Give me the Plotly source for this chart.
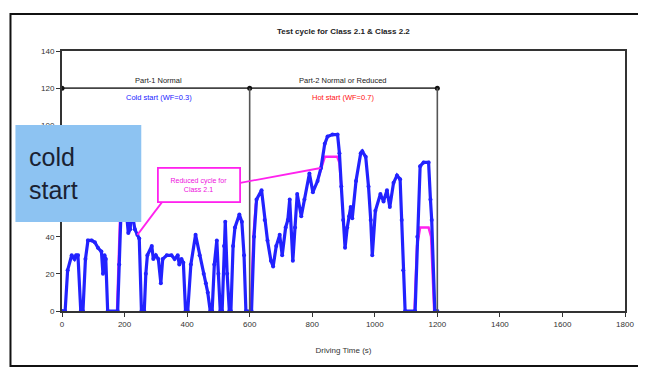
import plotly.graph_objects as go

# Normal cycle (Class 2.2) — time (s), speed (km/h)
normal_time = [0, 10, 18, 31, 40, 45, 51, 60, 67, 75, 83, 95, 105, 115, 126, 131, 136, 140, 146,
               178, 183, 188, 195, 205, 212, 218, 222, 228, 233, 241, 247, 254,
               263, 268, 273, 287, 292, 300, 308, 316, 322, 335, 350, 360, 370, 375, 382, 388, 395,
               402, 412, 427, 440, 453, 460, 466, 474, 480, 487, 495, 500, 506, 512, 518, 522, 528, 535,
               540, 547, 553, 567, 575, 582, 588,
               606, 614, 622, 638, 648, 657, 668, 675, 685, 696, 704, 715, 722, 728, 738, 745, 752, 765,
               775, 791, 802, 817, 828, 840, 849, 865, 881, 887, 893, 899, 905, 912, 918, 923, 928, 940,
               955, 960, 971, 980, 987, 992, 1002, 1018, 1028, 1039, 1048, 1060, 1071, 1081, 1086, 1091,
               1097, 1129, 1136, 1145, 1156, 1172, 1178, 1182, 1192, 1200]
normal_speed = [0, 0, 22, 30, 28, 30, 30, 0, 0, 28, 38, 38, 37, 34, 32, 20, 30, 28, 0,
                0, 25, 50, 58, 55, 42, 44, 55, 50, 44, 41, 39, 0,
                0, 20, 30, 35, 28, 30, 28, 15, 28, 30, 30, 28, 30, 25, 28, 26, 0,
                0, 25, 41, 30, 20, 15, 10, 0, 0, 25, 38, 20, 0, 0, 35, 48, 20, 0,
                0, 35, 45, 52, 48, 30, 0,
                0, 40, 60, 65, 49, 38, 27, 24, 35, 41, 30, 45, 49, 60, 27, 45, 63, 51,
                60, 74, 64, 70, 77, 90, 94, 95, 95, 85, 67, 49, 34, 45, 51, 56, 50, 70,
                85, 86, 83, 67, 49, 30, 54, 63, 59, 65, 56, 69, 73, 71, 49, 22,
                0, 0, 40, 78, 80, 80, 60, 49, 0, 0]

# Reduced cycle (Class 2.1) where it differs from / shows beside the normal cycle
reduced_time = [176, 182, 186, None,
                604, 612, 620, None,
                820, 828, 840, 880, 887, 893, None,
                1127, 1135, 1145, 1172, 1180, 1190]
reduced_speed = [0, 40, 52, None,
                 0, 40, 58, None,
                 72, 77, 83, 83, 80, 67, None,
                 0, 35, 45, 45, 40, 0]

x_ticks = [0, 200, 400, 600, 800, 1000, 1200, 1400, 1600, 1800]
y_ticks = [0, 20, 40, 60, 80, 100, 120, 140]
# 60 and 80 sit fully under the "cold start" box in the reference
y_ticktext = ["0", "20", "40", "", "", "100", "120", "140"]

bracket_x = [0, 600, 1200]
bracket_y = [120, 120, 120]

fig = go.Figure()

fig.add_trace(go.Scatter(x=reduced_time, y=reduced_speed, mode="lines",
                         line=dict(color="#FF22EE", width=2.5), connectgaps=False,
                         hoverinfo="skip", showlegend=False))
fig.add_trace(go.Scatter(x=normal_time, y=normal_speed, mode="lines+markers",
                         line=dict(color="#2222FF", width=3.2),
                         marker=dict(color="#2222FF", size=4),
                         showlegend=False))
fig.add_trace(go.Scatter(x=bracket_x, y=bracket_y, mode="lines+markers",
                         line=dict(color="#444444", width=1.8),
                         marker=dict(color="#111111", size=5),
                         showlegend=False))

shapes = []
for xv in [600, 1200]:
    shapes.append(dict(type="line", xref="x", yref="y", x0=xv, x1=xv, y0=0, y1=120,
                       line=dict(color="#555555", width=1.6)))
# connectors from the reduced cycle label
shapes.append(dict(type="line", xref="x", yref="y", x0=321, y0=58.9, x1=241, y1=41,
                   line=dict(color="#FF22EE", width=1.8)))
shapes.append(dict(type="line", xref="x", yref="y", x0=570, y0=69, x1=827, y1=77,
                   line=dict(color="#FF22EE", width=1.8)))
# "cold start" box
shapes.append(dict(type="rect", xref="paper", yref="paper", x0=-0.0827, x1=0.1408,
                   y0=0.3423, y1=0.7154, fillcolor="#8DC3F2", line=dict(width=0), layer="above"))
# outer frame
shapes.append(dict(type="rect", xref="paper", yref="paper", x0=-0.0915, x1=1.03,
                   y0=-0.2115, y1=1.1423, line=dict(color="#111111", width=2),
                   fillcolor="rgba(0,0,0,0)"))

annotations = [
    dict(x=310, y=124, xref="x", yref="y", text="Part-1 Normal", showarrow=False,
         font=dict(size=7.5, color="#222222")),
    dict(x=310, y=115, xref="x", yref="y", text="Cold start (WF=0.3)", showarrow=False,
         font=dict(size=7.5, color="#2222FF")),
    dict(x=897, y=124, xref="x", yref="y", text="Part-2 Normal or Reduced", showarrow=False,
         font=dict(size=7.5, color="#222222")),
    dict(x=897, y=115, xref="x", yref="y", text="Hot start (WF=0.7)", showarrow=False,
         font=dict(size=7.5, color="#FF1111")),
    dict(x=437, y=68, xref="x", yref="y", text="Reduced cycle for<br>Class 2.1", showarrow=False,
         font=dict(size=7, color="#EE11DD"), bgcolor="white", bordercolor="#FF22EE",
         borderwidth=1.8, width=78, height=30, borderpad=1),
    dict(x=-0.062, y=0.53, xref="paper", yref="paper", text="cold<br>start", showarrow=False,
         xanchor="left", yanchor="middle", align="left",
         font=dict(size=25, color="#1A2233", family="Liberation Sans, Arial, sans-serif")),
    dict(x=0.5, y=1.0, xref="paper", yref="paper", yshift=20, yanchor="middle",
         text="<b>Test cycle for Class 2.1 &amp; Class 2.2</b>",
         showarrow=False, font=dict(size=8, color="#222222")),
]

# the page body adds an 8 px offset, so the figure is sized to fill the rest of the window
fig.update_layout(
    width=638, height=363,
    margin=dict(l=54, r=16, t=43, b=60),
    paper_bgcolor="white", plot_bgcolor="white",
    font=dict(family="Liberation Sans, Arial, sans-serif", size=8, color="#333333"),
    shapes=shapes, annotations=annotations, showlegend=False,
    xaxis=dict(range=[0, 1800], tickvals=x_ticks, ticktext=[str(v) for v in x_ticks],
               showgrid=False, zeroline=False, showline=True, linecolor="#333333", linewidth=2,
               mirror=True, ticks="outside", ticklen=4, tickcolor="#333333",
               title=dict(text="Driving Time (s)", font=dict(size=8, color="#333333"), standoff=20)),
    yaxis=dict(range=[0, 140], tickvals=y_ticks, ticktext=y_ticktext,
               showgrid=False, zeroline=False, showline=True, linecolor="#333333", linewidth=2,
               mirror=True, ticks="outside", ticklen=4, tickcolor="#333333"),
)

fig.write_html("out.html")
